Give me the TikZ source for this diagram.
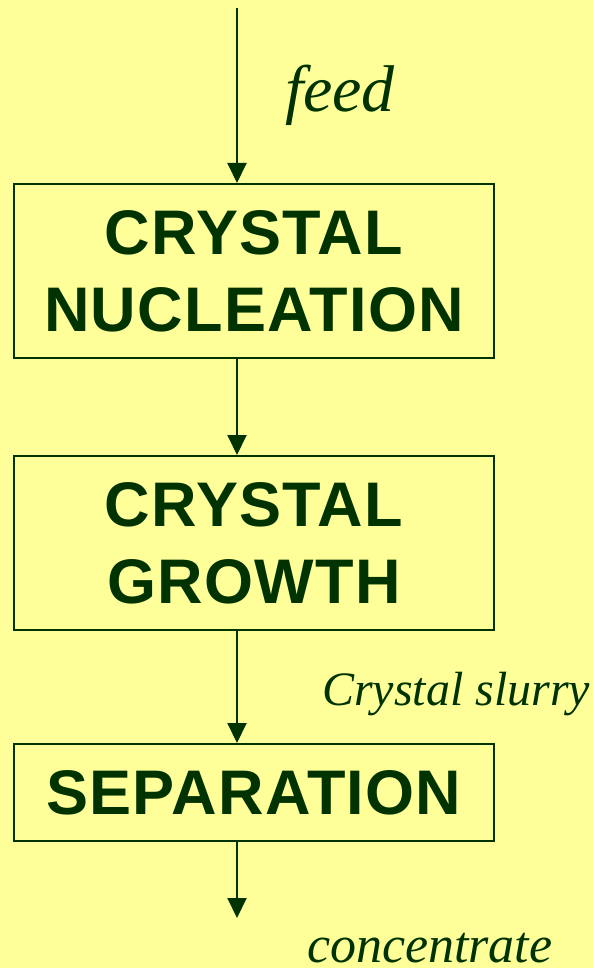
\documentclass[tikz,border=0pt]{standalone}
\usepackage{fontspec}
\setmainfont{Liberation Serif}
\newfontfamily\boxfont[LetterSpace=2]{Liberation Sans}
\usetikzlibrary{arrows.meta,positioning}
\definecolor{bgyellow}{HTML}{FFFF99}
\definecolor{dkgreen}{HTML}{003300}
\begin{document}
\begin{tikzpicture}[x=1pt,y=-1pt,line width=2pt,dkgreen,
    >={Triangle[length=20pt,width=19pt]},
    stagebox/.style={draw,minimum width=480pt,align=center,inner sep=0pt,
      font=\boxfont\bfseries\fontsize{63}{77}\selectfont},
    flowlabel/.style={font=\itshape\fontsize{49}{55}\selectfont,anchor=base west,inner sep=0pt}]
      \fill[bgyellow] (0,0) rectangle (593,968);
      \useasboundingbox (0,0) rectangle (593,968);

      \node[stagebox,minimum height=174pt] (nucl) at (254,271) {CRYSTAL\\NUCLEATION};
      \node[stagebox,minimum height=174pt] (growth) at (254,543) {CRYSTAL\\GROWTH};
      \node[stagebox,minimum height=97pt] (sep) at (254,792.5) {SEPARATION};

      % in and out
      \coordinate (feedin) at (237,8);
      \coordinate (prodout) at (237,918);

      \draw[->] (feedin)--(feedin |- nucl.north);
      \draw[->] (feedin |- nucl.south)--(feedin |- growth.north);
      \draw[->] (feedin |- growth.south)--(feedin |- sep.north);
      \draw[->] (feedin |- sep.south)--(prodout);

      % streams
      \node[flowlabel,font=\itshape\fontsize{66}{70}\selectfont] (feedlbl) at (284,112) {feed};
      \node[flowlabel,font=\itshape\fontsize{48}{55}\selectfont] (slurrylbl) at (321,705) {Crystal slurry};
      \node[flowlabel,font=\itshape\fontsize{52}{55}\selectfont] (conclbl) at (306,962) {concentrate};

    \end{tikzpicture}
\end{document}
